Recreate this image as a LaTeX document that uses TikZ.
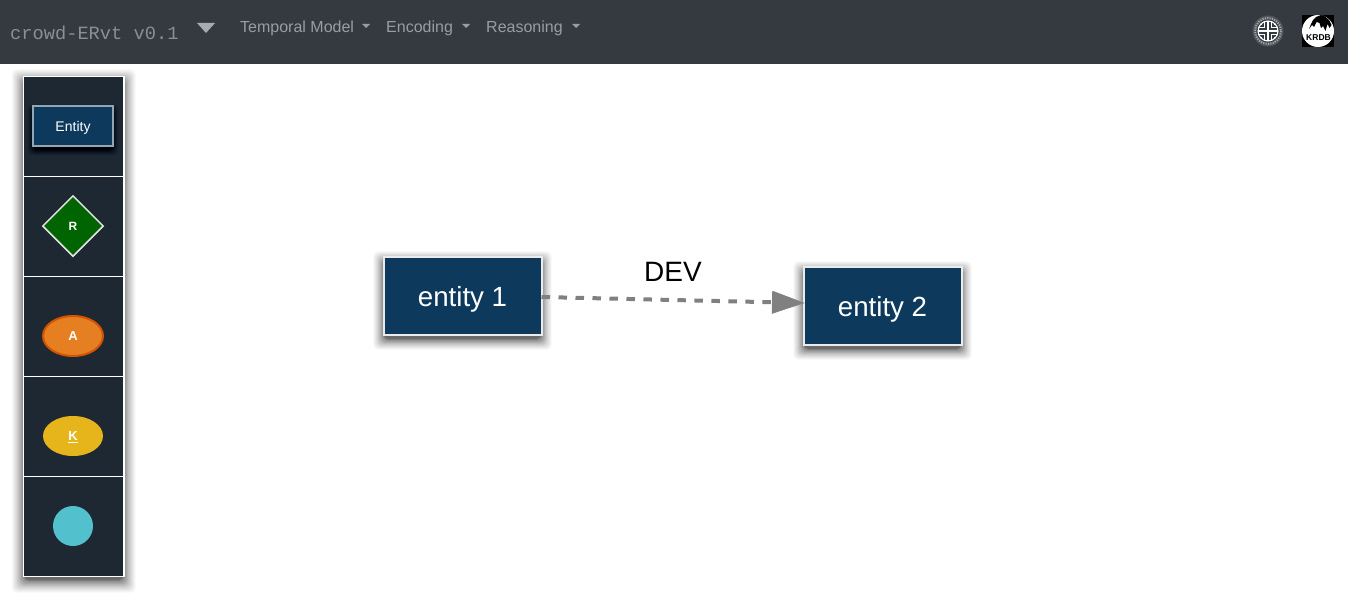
\documentclass[tikz,border=0pt]{standalone}
\usepackage{fontspec}
\setmainfont{Liberation Sans}
\newfontfamily\brandfont{Liberation Mono}
\usetikzlibrary{arrows.meta,shapes.geometric}
\definecolor{navbg}{HTML}{343A40}
\definecolor{navtxt}{HTML}{9A9DA0}
\definecolor{panelbg}{HTML}{1D2833}
\definecolor{entitybg}{HTML}{0D3A5C}
\definecolor{relbg}{HTML}{006400}
\definecolor{attrbg}{HTML}{E67E22}
\definecolor{attrln}{HTML}{D35400}
\definecolor{keybg}{HTML}{E6B41B}
\definecolor{circbg}{HTML}{52C1CD}
\definecolor{linkgray}{HTML}{808080}
\newcommand{\softshadow}[6]{%
  \foreach \k in {0,...,59}{%
    \pgfmathsetmacro\g{#5*(1-\k/60)^2-1}%
    \fill[black,opacity=#6,rounded corners=5pt] ({#1-\g},{#2-\g}) rectangle ({#3+\g},{#4+\g});
  }}
\newcommand{\fs}[1]{\fontsize{#1}{#1}\selectfont}
\tikzset{
  cellbox/.style={draw=white,line width=1.3pt,fill=panelbg,minimum width=100.5pt,minimum height=100pt,inner sep=0pt,outer sep=0pt},
  entitybox/.style={draw=white!92!black,line width=2pt,fill=entitybg,text=white,minimum width=158pt,minimum height=78pt,inner sep=0pt,outer sep=0pt,font=\fs{27.7},text height=21pt,text depth=0pt},
  toolentity/.style={draw=white!55!entitybg,line width=2pt,fill=entitybg,text=white,minimum width=80pt,minimum height=40pt,inner sep=0pt,font=\fs{14},text height=10pt,text depth=0pt},
  toolrel/.style={diamond,draw=white!90!black,line width=1.5pt,fill=relbg,text=white,minimum width=61pt,minimum height=61pt,aspect=1,inner sep=0pt,font=\fs{12}\bfseries},
  toolattr/.style={ellipse,draw=attrln,line width=2pt,fill=attrbg,text=white,minimum width=60pt,minimum height=40pt,inner sep=0pt,font=\fs{13}\bfseries,text height=9.5pt,text depth=0pt},
  toolkey/.style={ellipse,fill=keybg,text=white,minimum width=60pt,minimum height=40pt,inner sep=0pt,font=\fs{13}\bfseries,text height=9pt,text depth=0pt},
  toolcirc/.style={circle,fill=circbg,minimum size=40pt,inner sep=0pt},
  menuitem/.style={text=navtxt,font=\fs{16},inner sep=0pt,anchor=base west},
  caret/.style={fill=navtxt},
  devlink/.style={draw=linkgray,line width=4pt,dash pattern=on 8.5pt off 8.5pt,-{Triangle[length=33pt,width=22pt,fill=linkgray]}},
}
\begin{document}
\begin{tikzpicture}[x=1pt,y=-1pt]
\useasboundingbox (0,0) rectangle (1348,594);
\fill[white] (0,0) rectangle (1348,594);
% panel shadow
\softshadow{23.5}{81}{124}{581}{13}{0.012}
% navbar
\fill[navbg] (0,0) rectangle (1348,64);
\node[anchor=base west,inner sep=0pt,text=navtxt!85!navbg,font=\brandfont\fs{18.7}] (brand) at (10,39.5) {crowd-ERvt v0.1};
\fill[navtxt!85!white] (197,23) -- (215,23) -- (206,33) -- cycle;
\node[menuitem] (m1) at (240,32.5) {Temporal Model};
\node[menuitem] (m2) at (386,32.5) {Encoding};
\node[menuitem] (m3) at (486,32.5) {Reasoning};
\fill[caret] (362,24) -- (370,24) -- (366,28) -- cycle;
\fill[caret] (462,24) -- (470,24) -- (466,28) -- cycle;
\fill[caret] (572,24) -- (580,24) -- (576,28) -- cycle;
% left logo
\coordinate (ul) at (1268,31);
\fill[white!14!navbg] (ul) circle (15.5);
\draw[white!55!navbg,line width=2pt,dash pattern=on 1.2pt off 1.2pt] (ul) circle (13);
\fill[navbg] (ul) circle (11.5);
\draw[white,line width=1.1pt] (ul) circle (10);
\foreach \a in {0,90,180,270}{
  \begin{scope}[shift={(ul)},rotate=\a]
    \draw[white,line width=2.2pt] (0,0) -- (0,-10);
    \draw[white,line width=1.2pt] (-3.6,-9.5) -- (-3.6,-3.6) -- (-9.5,-3.6);
    \draw[white,line width=1.2pt] (-6.4,-7.5) -- (-6.4,-6.4) -- (-7.5,-6.4);
  \end{scope}}
% right logo
\fill[black] (1302,15) rectangle (1334,47);
\fill[white] (1318,31) circle (16);
\fill[black] (1309,29) -- (1311,24) -- (1313,20) -- (1316,17) -- (1321,15) -- (1325,16.5) -- (1329,20) -- (1331.5,25) -- (1329.5,28) -- (1327.5,24) -- (1325.5,31) -- (1323,26) -- (1321,28) -- (1319.5,23) -- (1316.5,22) -- (1314,27) -- (1312,25) -- cycle;
\node[text=black,font=\fs{8.5}\bfseries,inner sep=0pt] (krdb) at (1318.5,37.5) {KRDB};
% panel
\node[cellbox] (c1) at (73.75,126.5) {};
\node[cellbox] (c2) at (73.75,226.5) {};
\node[cellbox] (c3) at (73.75,326.5) {};
\node[cellbox] (c4) at (73.75,426.5) {};
\node[cellbox] (c5) at (73.75,526.5) {};
\softshadow{33}{110}{113}{150}{7}{0.002}
\node[toolentity] (te) at (73,126) {Entity};
\node[toolrel] (tr) at (73,226) {R};
\node[toolattr] (ta) at (73,336) {A};
\node[toolkey] (tk) at (73,436) {\underline{K}};
\node[toolcirc] (tc) at (73,526) {};
% entities
\softshadow{383}{261}{542}{340}{11}{0.012}
\softshadow{803}{271}{962}{350}{11}{0.012}
\node[entitybox] (e1) at (462.5,295.5) {entity 1};
\node[entitybox] (e2) at (882.5,305.5) {entity 2};
\coordinate (from) at ([yshift=-1.5pt]e1.east);
\coordinate (to) at ([xshift=1.5pt,yshift=2.5pt]e2.west);
\draw[devlink] (from) -- (to);
\node[text=black,font=\fs{28},inner sep=0pt] (dev) at (673,272) {DEV};
\end{tikzpicture}
\end{document}
